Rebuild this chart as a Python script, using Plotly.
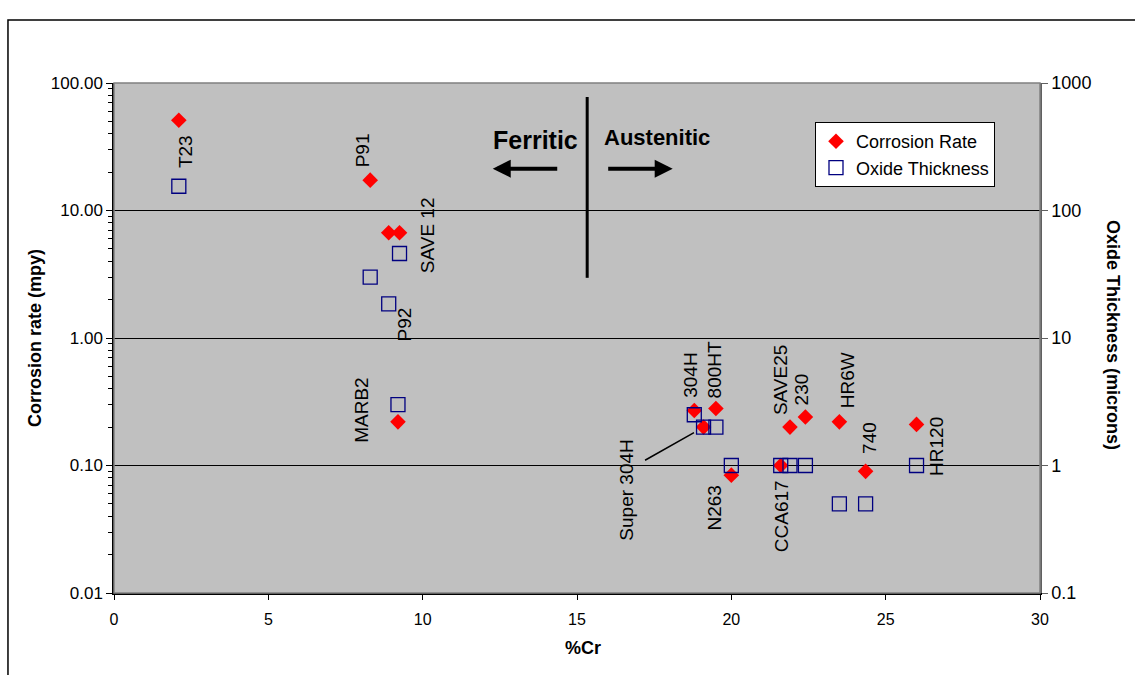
import numpy as np
import plotly.graph_objects as go

# Alloy data: chromium content, corrosion rate (mpy) and oxide thickness (microns)
alloys = ["T23", "P91", "P92", "SAVE 12", "MARB2", "304H", "Super 304H", "800HT",
          "N263", "CCA617", "SAVE25", "230", "HR6W", "740", "HR120"]
cr_pct = [2.1, 8.3, 8.9, 9.25, 9.2, 18.8, 19.1, 19.5, 20.0, 21.6, 21.9, 22.4, 23.5, 24.35, 26.0]
corrosion_rate = [51, 17.3, 6.7, 6.7, 0.22, 0.27, 0.20, 0.28, 0.084, 0.10, 0.20, 0.24, 0.22, 0.09, 0.21]
oxide_thickness = [155, 30, 18.5, 46, 3.0, 2.5, 2.0, 2.0, 1.0, 1.0, 1.0, 1.0, 0.5, 0.5, 1.0]

left_ticks = [0.01, 0.1, 1, 10, 100]
left_ticktext = ["0.01", "0.10", "1.00", "10.00", "100.00"]
right_ticks = [0.1, 1, 10, 100, 1000]
right_ticktext = ["0.1", "1", "10", "100", "1000"]
x_ticks = [0, 5, 10, 15, 20, 25, 30]

FONT = "Arial, Liberation Sans, sans-serif"

fig = go.Figure()
fig.add_trace(go.Scatter(
    x=cr_pct, y=corrosion_rate, mode="markers", name="Corrosion Rate",
    marker=dict(symbol="diamond", size=12, color="#FF0000", line=dict(width=0)),
))
fig.add_trace(go.Scatter(
    x=cr_pct, y=oxide_thickness, mode="markers", name="Oxide Thickness", yaxis="y2",
    marker=dict(symbol="square-open", size=14, color="#000080", line=dict(width=1.3)),
))

# Label offsets (pixels) from each corrosion-rate marker
label_shift = {
    "T23": (6, -31), "P91": (-8, 30), "P92": (16, -92), "SAVE 12": (28, -3),
    "MARB2": (-36, 12), "304H": (-4, 35), "Super 304H": (-77, -63), "800HT": (-1, 39),
    "N263": (-17, -33), "CCA617": (1, -51), "SAVE25": (-10, 47), "230": (-4, 28),
    "HR6W": (8, 42), "740": (4, 33), "HR120": (20, -22),
}
annotations = []
for name, xv, yv in zip(alloys, cr_pct, corrosion_rate):
    dx, dy = label_shift[name]
    annotations.append(dict(
        x=xv, y=np.log10(yv), xref="x", yref="y", text=name, showarrow=False,
        textangle=-90, xshift=dx, yshift=dy, font=dict(family=FONT, size=19, color="black"),
    ))

# Leader line for Super 304H
i_s = alloys.index("Super 304H")
annotations.append(dict(
    x=cr_pct[i_s], y=np.log10(corrosion_rate[i_s]), xref="x", yref="y", text="",
    showarrow=True, arrowhead=0, arrowwidth=1.5, arrowcolor="black",
    ax=-60, ay=34, standoff=11,
))

# Ferritic / Austenitic region markers
arrow_y = np.log10(21.3)
annotations += [
    dict(x=12.27, y=arrow_y, xref="x", yref="y", text="", showarrow=True,
         arrowhead=2, arrowsize=0.9, arrowwidth=4, arrowcolor="black", ax=66, ay=0),
    dict(x=18.1, y=arrow_y, xref="x", yref="y", text="", showarrow=True,
         arrowhead=2, arrowsize=0.9, arrowwidth=4, arrowcolor="black", ax=-66, ay=0),
    dict(x=13.67, y=np.log10(36), xref="x", yref="y", text="<b>Ferritic</b>", showarrow=False,
         font=dict(family=FONT, size=25, color="black")),
    dict(x=17.6, y=np.log10(37.5), xref="x", yref="y", text="<b>Austenitic</b>", showarrow=False,
         font=dict(family=FONT, size=22, color="black")),
]

# Axis titles
annotations += [
    dict(x=0, y=0.5, xref="paper", yref="paper", xanchor="center", yanchor="middle",
         xshift=-79, yshift=0,
         text="<b>Corrosion rate (mpy)</b>", textangle=-90, showarrow=False,
         font=dict(family=FONT, size=18, color="black")),
    dict(x=1, y=0.5, xref="paper", yref="paper", xanchor="center", yanchor="middle",
         xshift=73, yshift=3,
         text="<b>Oxide Thickness (microns)</b>", textangle=90, showarrow=False,
         font=dict(family=FONT, size=18, color="black")),
    dict(x=0.5, y=0, xref="paper", yref="paper", xanchor="center", yanchor="middle",
         xshift=6, yshift=-55,
         text="<b>%Cr</b>", showarrow=False, font=dict(family=FONT, size=18, color="black")),
]

shapes = [
    # chart frame
    dict(type="rect", xref="paper", yref="paper", x0=-0.1145, x1=1.2, y0=-0.3, y1=1.1235,
         line=dict(color="black", width=1.5), fillcolor="rgba(0,0,0,0)", layer="below"),
    # plot area border
    dict(type="rect", xref="paper", yref="paper", x0=0, x1=1, y0=0, y1=1,
         line=dict(color="#808080", width=1.5), fillcolor="rgba(0,0,0,0)", layer="above"),
    # ferritic / austenitic divider
    dict(type="line", xref="x", yref="paper", x0=15.33, x1=15.33, y0=0.618, y1=0.9725,
         line=dict(color="black", width=3)),
]

fig.update_layout(
    width=1135, height=675,
    margin=dict(l=114, r=95, t=83, b=82),
    paper_bgcolor="white", plot_bgcolor="#C0C0C0",
    font=dict(family=FONT, size=16, color="black"),
    showlegend=True,
    legend=dict(x=0.9514, y=0.9235, xanchor="right", yanchor="top",
                bgcolor="white", bordercolor="black", borderwidth=1,
                font=dict(family=FONT, size=18, color="black"), tracegroupgap=2),
    xaxis=dict(range=[0, 30], tickvals=x_ticks, showgrid=False, zeroline=False,
               showline=True, linecolor="black", linewidth=1.5,
               ticks="outside", ticklen=5, tickcolor="black", ticklabelstandoff=6,
               tickfont=dict(family=FONT, size=16)),
    yaxis=dict(type="log", range=[-2, 2], tickvals=left_ticks, ticktext=left_ticktext,
               showgrid=True, gridcolor="black", gridwidth=1, zeroline=False,
               showline=True, linecolor="black", linewidth=1.5,
               ticks="outside", ticklen=6, tickcolor="black",
               minor=dict(ticks="outside", ticklen=4, tickcolor="black", dtick="D1", showgrid=False),
               tickfont=dict(family=FONT, size=17)),
    yaxis2=dict(type="log", range=[-1, 3], tickvals=right_ticks, ticktext=right_ticktext,
                overlaying="y", side="right", showgrid=False, zeroline=False,
                showline=True, linecolor="#606060", linewidth=1.5,
                ticks="outside", ticklen=6, tickcolor="#606060",
                tickfont=dict(family=FONT, size=18)),
    annotations=annotations,
    shapes=shapes,
)

fig.write_html("out.html")
